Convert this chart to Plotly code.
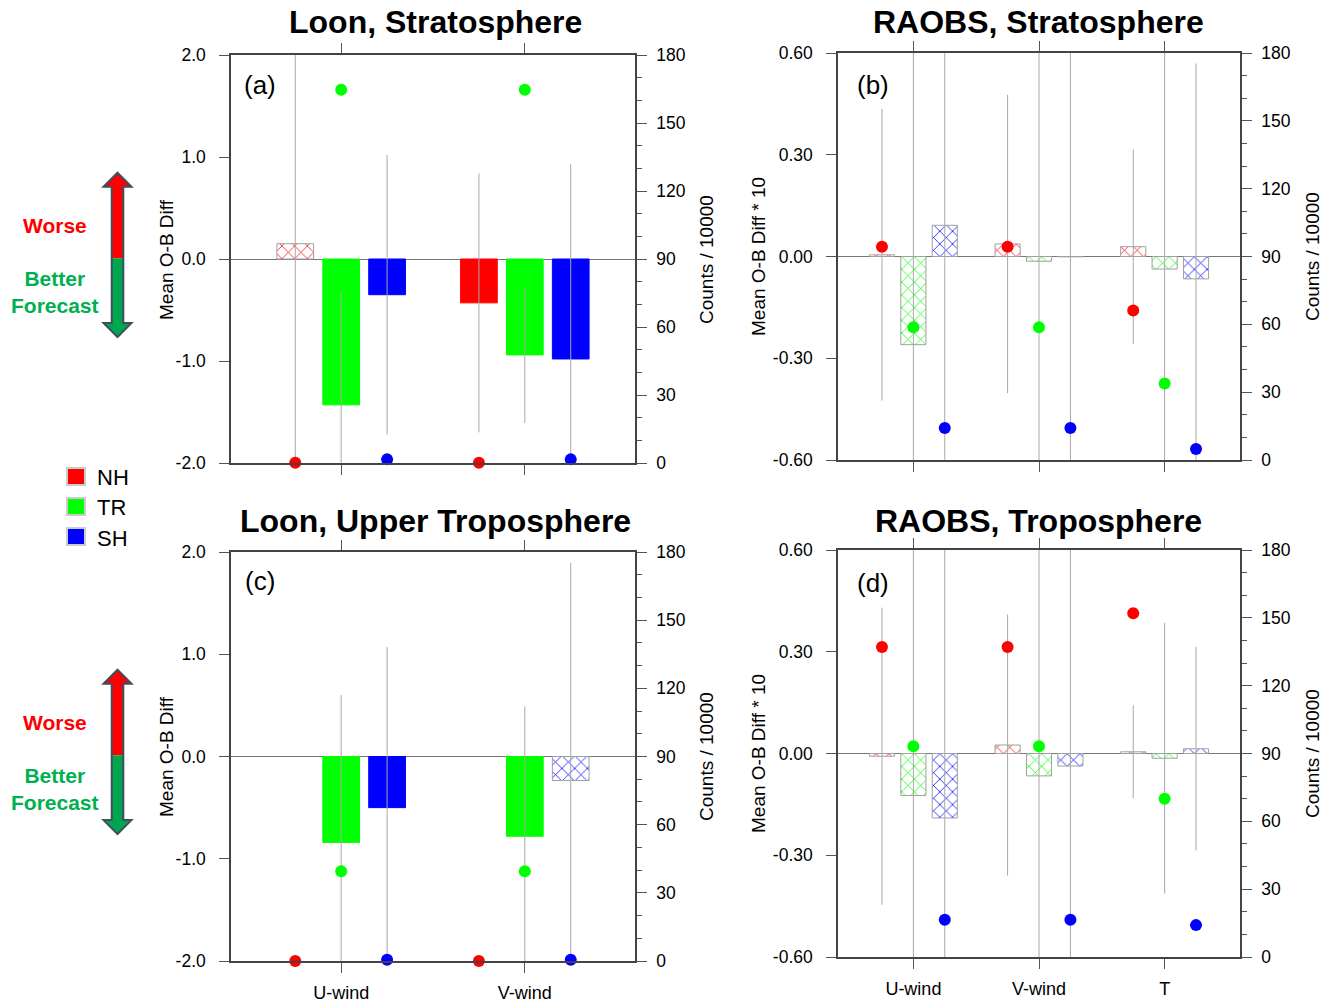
import plotly.graph_objects as go

W, H = 1333, 1002

# ---------------- data ----------------
loon_cats = ["U-wind", "V-wind"]
raob_cats = ["U-wind", "V-wind", "T"]
regions = ["NH", "TR", "SH"]
region_colors = ["#ff0000", "#00ff00", "#0000ff"]

loon_yticks = [-2.0, -1.0, 0.0, 1.0, 2.0]
loon_yticklabels = ["-2.0", "-1.0", "0.0", "1.0", "2.0"]
raob_yticks = [-0.6, -0.3, 0.0, 0.3, 0.6]
raob_yticklabels = ["-0.60", "-0.30", "0.00", "0.30", "0.60"]

# (a) Loon, Stratosphere : mean O-B diff, error half-width, counts/10000, significant?
a_diff = {"NH": [0.15, -0.43], "TR": [-1.43, -0.94], "SH": [-0.35, -0.98]}
a_err = {"NH": [2.6, 1.27], "TR": [1.10, 0.67], "SH": [1.37, 1.91]}
a_counts = {"NH": [0.1, 0.1], "TR": [164.7, 164.7], "SH": [1.6, 1.6]}
a_sig = {"NH": [False, True], "TR": [True, True], "SH": [True, True]}

# (b) RAOBS, Stratosphere (diff * 10)
b_diff = {"NH": [0.005, 0.037, 0.029], "TR": [-0.26, -0.014, -0.037], "SH": [0.092, -0.001, -0.066]}
b_err = {"NH": [0.43, 0.44, 0.287], "TR": [1.0, 0.8, 0.8], "SH": [0.9, 0.8, 0.635]}
b_counts = {"NH": [94.3, 94.3, 66.1], "TR": [58.7, 58.7, 33.8], "SH": [14.2, 14.2, 4.9]}
b_sig = {"NH": [False, False, False], "TR": [False, False, False], "SH": [False, False, False]}

# (c) Loon, Upper Troposphere
c_diff = {"NH": [None, None], "TR": [-0.84, -0.78], "SH": [-0.50, -0.235]}
c_err = {"NH": [None, None], "TR": [1.44, 1.27], "SH": [1.57, 2.13]}
c_counts = {"NH": [0.0, 0.0], "TR": [39.5, 39.5], "SH": [0.6, 0.6]}
c_sig = {"NH": [True, True], "TR": [True, True], "SH": [True, False]}

# (d) RAOBS, Troposphere (diff * 10)
d_diff = {"NH": [-0.008, 0.025, 0.005], "TR": [-0.124, -0.066, -0.014], "SH": [-0.19, -0.037, 0.014]}
d_err = {"NH": [0.438, 0.385, 0.137], "TR": [0.9, 0.8, 0.399], "SH": [0.9, 0.8, 0.30]}
d_counts = {"NH": [137.1, 137.1, 152.0], "TR": [93.2, 93.2, 70.0], "SH": [16.5, 16.5, 14.1]}
d_sig = {"NH": [False, False, False], "TR": [False, False, False], "SH": [False, False, False]}

# ---------------- helpers ----------------
FONT = "Liberation Sans"
AXCOL = "#444444"
TICKCOL = "#555555"


def fx(px):
    return px / W


def fy(py):
    return 1 - py / H


fig = go.Figure()
layout = dict(
    template="none",
    width=W, height=H, autosize=False,
    margin=dict(l=0, r=0, t=0, b=0, pad=0),
    paper_bgcolor="white", plot_bgcolor="white",
    barmode="overlay", showlegend=False,
    font=dict(family=FONT, color="black"),
)

offsets = [-0.25, 0.0, 0.25]


def add_panel(idx, cats, diff, err, counts, sig, xpx, ypx, yticks, yticklabels, show_xlabels):
    xa = "x" if idx == 1 else f"x{idx}"
    nl, nr = 2 * idx - 1, 2 * idx
    yl = "y" if nl == 1 else f"y{nl}"
    yr = f"y{nr}"
    pos = list(range(1, len(cats) + 1))
    for r, reg in enumerate(regions):
        col = region_colors[r]
        shapes = ["" if s else "x" for s in sig[reg]]
        lcols = [col if s else "#a0a0a0" for s in sig[reg]]
        fig.add_trace(go.Bar(
            x=pos, y=diff[reg], width=0.2, offset=offsets[r] - 0.1,
            xaxis=xa, yaxis=yl,
            marker=dict(color=col, line=dict(color=lcols, width=1),
                        pattern=dict(shape=shapes, fgcolor=col, bgcolor="white",
                                     size=9, solidity=0.16, fillmode="replace")),
            error_y=dict(type="data", array=err[reg], symmetric=True,
                         color="#a8a8a8", thickness=1, width=0),
            hoverinfo="skip"))
    for r, reg in enumerate(regions):
        col = region_colors[r]
        fig.add_trace(go.Scatter(
            x=[p + offsets[r] for p in pos], y=counts[reg], mode="markers",
            xaxis=xa, yaxis=yr, cliponaxis=False,
            marker=dict(color=col, size=12, line=dict(width=0)),
            hoverinfo="skip"))

    xname = "xaxis" if idx == 1 else f"xaxis{idx}"
    ylname = "yaxis" if nl == 1 else f"yaxis{nl}"
    yrname = f"yaxis{nr}"
    layout[xname] = dict(
        domain=[fx(xpx[0]), fx(xpx[1])], anchor=yl, automargin=False,
        range=[0.4, len(cats) + 0.6],
        tickmode="array", tickvals=pos, ticktext=cats,
        showticklabels=show_xlabels,
        ticks="outside", ticklen=10, tickcolor=TICKCOL, tickwidth=1,
        showline=True, linecolor=AXCOL, linewidth=1.5, mirror="ticks",
        showgrid=False, zeroline=False, ticklabelstandoff=5,
        tickfont=dict(family=FONT, size=18, color="black"),
        fixedrange=True)
    layout[ylname] = dict(
        domain=[fy(ypx[1]), fy(ypx[0])], anchor=xa, side="left", automargin=False,
        range=[yticks[0], yticks[-1]],
        tickmode="array", tickvals=yticks, ticktext=yticklabels,
        ticks="outside", ticklen=10, tickcolor=TICKCOL, tickwidth=1,
        showline=True, linecolor=AXCOL, linewidth=1.5,
        showgrid=False, zeroline=True, zerolinecolor="#777777", zerolinewidth=1,
        ticklabelstandoff=10,
        tickfont=dict(family=FONT, size=17.5, color="black"),
        fixedrange=True)
    layout[yrname] = dict(
        overlaying=yl, anchor=xa, side="right", automargin=False,
        range=[0, 180], tick0=0, dtick=30,
        ticks="outside", ticklen=10, tickcolor=TICKCOL, tickwidth=1,
        minor=dict(dtick=10, ticklen=5, ticks="outside", tickcolor=TICKCOL, showgrid=False),
        showline=True, linecolor=AXCOL, linewidth=1.5,
        showgrid=False, zeroline=False, ticklabelstandoff=6,
        tickfont=dict(family=FONT, size=17.5, color="black"),
        fixedrange=True)


add_panel(1, loon_cats, a_diff, a_err, a_counts, a_sig, (231, 635), (55, 463),
          loon_yticks, loon_yticklabels, False)
add_panel(2, raob_cats, b_diff, b_err, b_counts, b_sig, (838, 1240), (53, 460),
          raob_yticks, raob_yticklabels, False)
add_panel(3, loon_cats, c_diff, c_err, c_counts, c_sig, (231, 635), (552, 961),
          loon_yticks, loon_yticklabels, True)
add_panel(4, raob_cats, d_diff, d_err, d_counts, d_sig, (838, 1240), (550, 957),
          raob_yticks, raob_yticklabels, True)

annotations = []


def text(xp, yp, s, size, bold=False, color="black", angle=0, xanchor="center"):
    annotations.append(dict(
        x=fx(xp), y=fy(yp), xref="paper", yref="paper", text=f"<b>{s}</b>" if bold else s,
        showarrow=False, textangle=angle, xanchor=xanchor, yanchor="middle",
        font=dict(family=FONT, size=size, color=color)))


# titles
text(435, 22, "Loon, Stratosphere", 32, bold=True)
text(1038, 22, "RAOBS, Stratosphere", 32, bold=True)
text(435, 521, "Loon, Upper Troposphere", 32, bold=True)
text(1038, 521, "RAOBS, Troposphere", 32, bold=True)

# panel labels
text(260, 85, "(a)", 26)
text(873, 85, "(b)", 26)
text(260, 581, "(c)", 26)
text(873, 583, "(d)", 26)

# axis titles
for yc in (260, 757):
    text(166, yc, "Mean O-B Diff", 19, angle=-90)
    text(706, yc, "Counts / 10000", 19, angle=-90)
for yc in (257, 754):
    text(758, yc, "Mean O-B Diff * 10", 19, angle=-90)
    text(1312, yc, "Counts / 10000", 19, angle=-90)

shapes = []

# "Worse / Better Forecast" arrows
RED = "#ff0000"
GREEN = "#00a64f"
TXTGREEN = "#00b050"
OUT = "#3e4f5f"


def path(pts):
    return "M " + " L ".join(f"{fx(x):.5f},{fy(y):.5f}" for x, y in pts) + " Z"


for dy in (0, 497):
    cx = 117.5
    top, hb1, mid, hb2, bot = 172.7 + dy, 186.7 + dy, 258.3 + dy, 323 + dy, 337 + dy
    hw, sw = 14, 5.8
    red_pts = [(cx, top), (cx + hw, hb1), (cx + sw, hb1), (cx + sw, mid),
               (cx - sw, mid), (cx - sw, hb1), (cx - hw, hb1)]
    green_pts = [(cx - sw, mid), (cx + sw, mid), (cx + sw, hb2), (cx + hw, hb2),
                 (cx, bot), (cx - hw, hb2), (cx - sw, hb2)]
    full = [(cx, top), (cx + hw, hb1), (cx + sw, hb1), (cx + sw, hb2), (cx + hw, hb2),
            (cx, bot), (cx - hw, hb2), (cx - sw, hb2), (cx - sw, hb1), (cx - hw, hb1)]
    shapes.append(dict(type="path", xref="paper", yref="paper", path=path(red_pts),
                       fillcolor=RED, line=dict(width=0)))
    shapes.append(dict(type="path", xref="paper", yref="paper", path=path(green_pts),
                       fillcolor=GREEN, line=dict(width=0)))
    shapes.append(dict(type="path", xref="paper", yref="paper", path=path(full),
                       fillcolor="rgba(0,0,0,0)", line=dict(color=OUT, width=2)))
    text(55, 225 + dy, "Worse", 21, bold=True, color=RED)
    text(55, 291.5 + dy, "Better<br>Forecast", 21, bold=True, color=TXTGREEN)

# region key
for r, reg in enumerate(regions):
    y0 = 468 + 30 * r
    shapes.append(dict(type="rect", xref="paper", yref="paper",
                       x0=fx(67), x1=fx(85), y0=fy(y0 + 17), y1=fy(y0),
                       fillcolor=region_colors[r], line=dict(color="#cccccc", width=2)))
    text(95, y0 + 10, reg, 22, xanchor="left")

layout["annotations"] = annotations
layout["shapes"] = shapes
fig.update_layout(**layout)

fig.write_html("out.html", config={"displayModeBar": False})
